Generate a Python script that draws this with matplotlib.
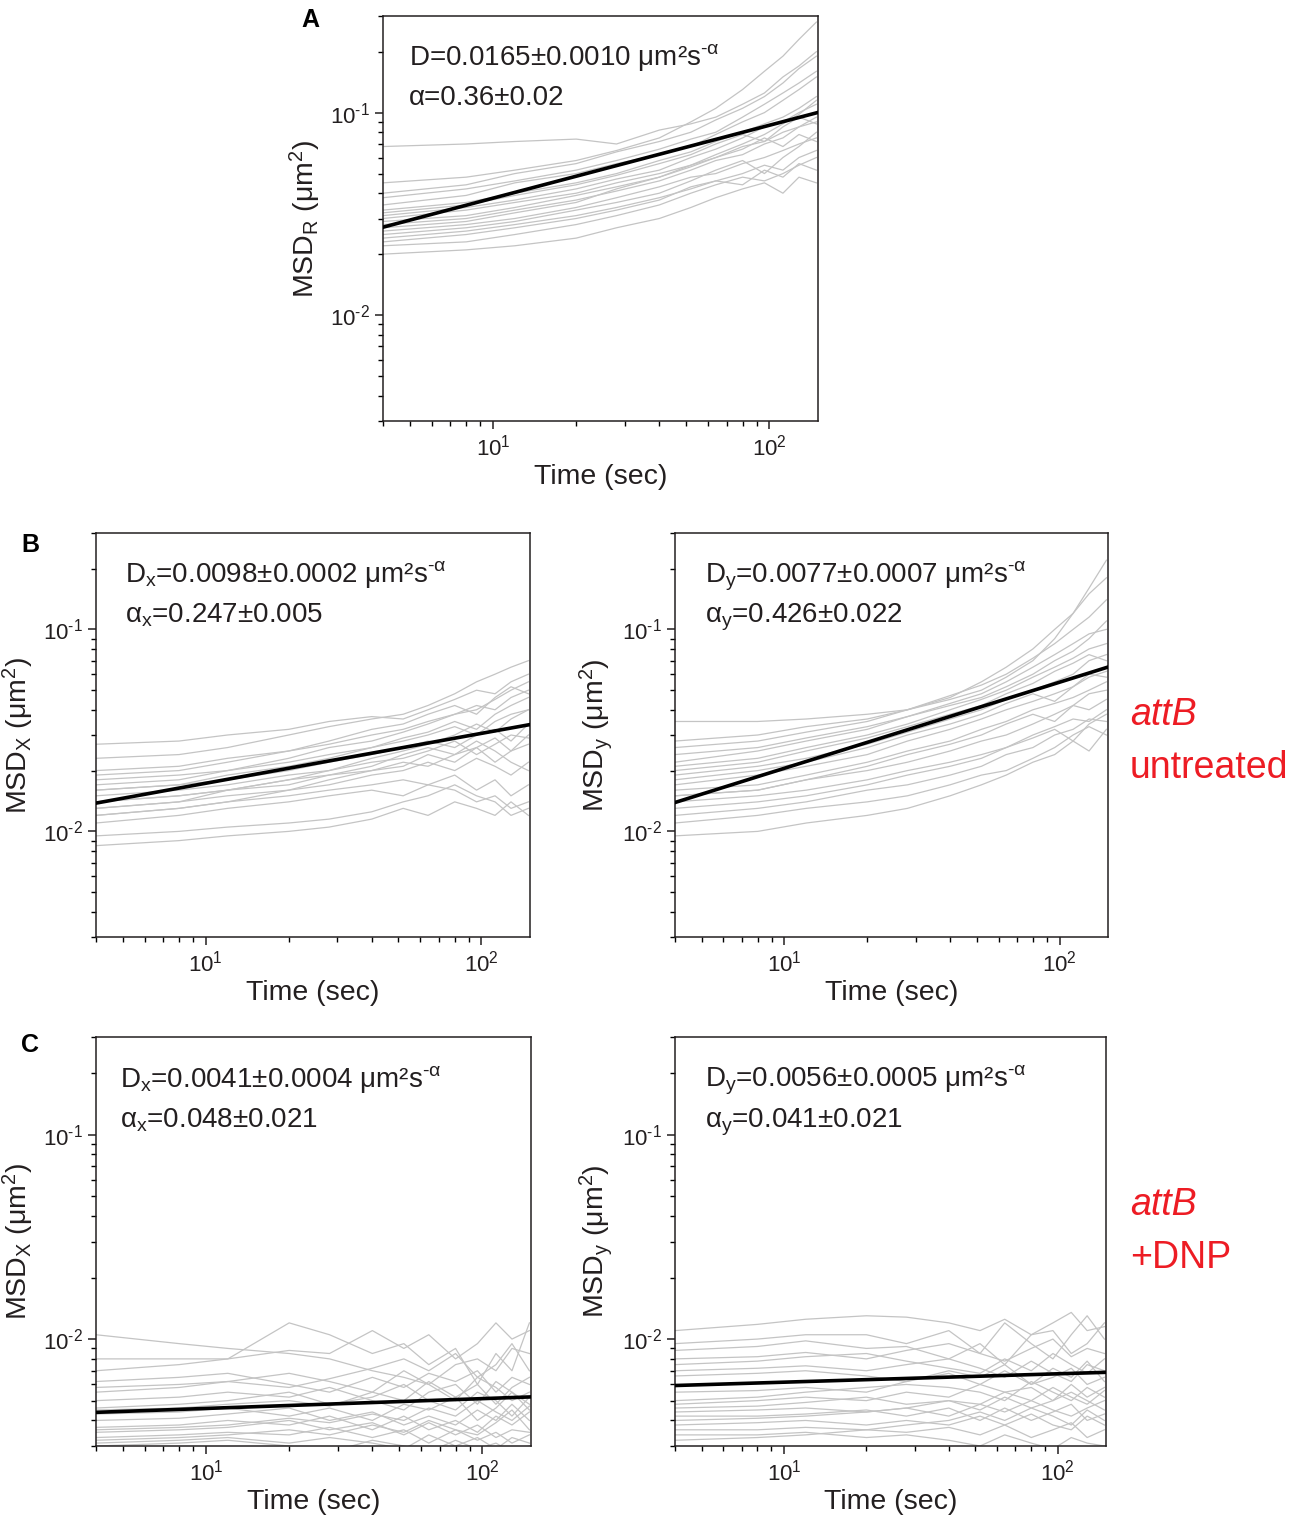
import numpy as np
import matplotlib.pyplot as plt
from matplotlib.ticker import LogLocator, NullFormatter, FuncFormatter

plt.rcParams['font.family'] = ['Liberation Sans', 'DejaVu Sans']
plt.rcParams['mathtext.fontset'] = 'custom'
plt.rcParams['mathtext.rm'] = 'Liberation Sans'
plt.rcParams['mathtext.it'] = 'Liberation Sans:italic'
plt.rcParams['mathtext.bf'] = 'Liberation Sans:bold'

t_lag = [4, 8, 12, 20, 28, 40, 52, 64, 80, 96, 112, 128, 148]

# A: MSD_R traces
msd_r = [
    [0.068, 0.070, 0.072, 0.074, 0.070, 0.082, 0.088, 0.095, 0.110, 0.125, 0.150, 0.170, 0.200],
    [0.045, 0.048, 0.052, 0.058, 0.065, 0.075, 0.090, 0.105, 0.130, 0.160, 0.190, 0.230, 0.280],
    [0.038, 0.042, 0.046, 0.052, 0.058, 0.066, 0.074, 0.080, 0.095, 0.110, 0.125, 0.140, 0.160],
    [0.033, 0.036, 0.040, 0.045, 0.050, 0.058, 0.064, 0.072, 0.080, 0.088, 0.095, 0.105, 0.120],
    [0.030, 0.033, 0.036, 0.040, 0.045, 0.050, 0.055, 0.060, 0.068, 0.072, 0.080, 0.085, 0.095],
    [0.028, 0.030, 0.033, 0.037, 0.041, 0.046, 0.052, 0.058, 0.062, 0.070, 0.075, 0.085, 0.090],
    [0.026, 0.028, 0.030, 0.034, 0.038, 0.043, 0.048, 0.050, 0.056, 0.060, 0.065, 0.070, 0.075],
    [0.024, 0.026, 0.028, 0.031, 0.034, 0.038, 0.042, 0.046, 0.050, 0.055, 0.052, 0.060, 0.065],
    [0.022, 0.023, 0.025, 0.028, 0.031, 0.035, 0.040, 0.044, 0.048, 0.046, 0.050, 0.055, 0.060],
    [0.020, 0.021, 0.022, 0.024, 0.027, 0.030, 0.034, 0.038, 0.042, 0.045, 0.040, 0.048, 0.045],
    [0.035, 0.039, 0.045, 0.050, 0.056, 0.062, 0.068, 0.078, 0.090, 0.100, 0.115, 0.130, 0.150],
    [0.031, 0.034, 0.037, 0.042, 0.047, 0.052, 0.060, 0.066, 0.075, 0.085, 0.090, 0.100, 0.110],
    [0.040, 0.044, 0.050, 0.056, 0.064, 0.072, 0.080, 0.092, 0.105, 0.120, 0.140, 0.165, 0.190],
    [0.027, 0.029, 0.032, 0.036, 0.042, 0.048, 0.055, 0.062, 0.070, 0.078, 0.088, 0.098, 0.115],
    [0.025, 0.027, 0.029, 0.033, 0.036, 0.040, 0.046, 0.052, 0.058, 0.050, 0.060, 0.068, 0.080],
    [0.023, 0.025, 0.027, 0.030, 0.033, 0.037, 0.043, 0.046, 0.044, 0.052, 0.048, 0.056, 0.052],
    [0.032, 0.035, 0.039, 0.044, 0.049, 0.056, 0.062, 0.070, 0.078, 0.072, 0.085, 0.095, 0.088],
    [0.029, 0.031, 0.034, 0.039, 0.043, 0.048, 0.054, 0.060, 0.066, 0.075, 0.068, 0.078, 0.072],
]

# B: untreated, MSD_x and MSD_y traces
msd_x_untr = [
    [0.027, 0.028, 0.030, 0.032, 0.035, 0.037, 0.036, 0.040, 0.045, 0.050, 0.048, 0.055, 0.060],
    [0.023, 0.024, 0.026, 0.030, 0.033, 0.036, 0.038, 0.042, 0.048, 0.055, 0.060, 0.065, 0.070],
    [0.020, 0.021, 0.023, 0.025, 0.027, 0.030, 0.032, 0.035, 0.038, 0.042, 0.040, 0.046, 0.050],
    [0.018, 0.019, 0.020, 0.022, 0.024, 0.026, 0.028, 0.030, 0.033, 0.030, 0.035, 0.038, 0.040],
    [0.016, 0.017, 0.018, 0.020, 0.022, 0.024, 0.026, 0.028, 0.026, 0.030, 0.032, 0.028, 0.034],
    [0.015, 0.016, 0.017, 0.019, 0.020, 0.022, 0.023, 0.025, 0.028, 0.024, 0.027, 0.030, 0.029],
    [0.014, 0.015, 0.016, 0.017, 0.019, 0.020, 0.022, 0.021, 0.024, 0.026, 0.022, 0.025, 0.027],
    [0.013, 0.014, 0.015, 0.016, 0.017, 0.019, 0.020, 0.022, 0.020, 0.023, 0.021, 0.019, 0.022],
    [0.012, 0.013, 0.014, 0.015, 0.016, 0.017, 0.018, 0.017, 0.019, 0.016, 0.018, 0.015, 0.017],
    [0.011, 0.012, 0.013, 0.014, 0.015, 0.016, 0.015, 0.017, 0.016, 0.014, 0.015, 0.013, 0.014],
    [0.0095, 0.010, 0.0105, 0.011, 0.0115, 0.0125, 0.014, 0.015, 0.017, 0.015, 0.014, 0.012, 0.013],
    [0.0085, 0.009, 0.0095, 0.010, 0.0105, 0.0115, 0.013, 0.012, 0.014, 0.013, 0.012, 0.014, 0.012],
    [0.017, 0.018, 0.020, 0.023, 0.026, 0.028, 0.031, 0.034, 0.038, 0.040, 0.045, 0.050, 0.055],
    [0.019, 0.020, 0.022, 0.025, 0.028, 0.032, 0.034, 0.038, 0.042, 0.038, 0.046, 0.052, 0.048],
    [0.014, 0.015, 0.016, 0.018, 0.020, 0.023, 0.025, 0.027, 0.030, 0.034, 0.031, 0.036, 0.040],
    [0.012, 0.013, 0.014, 0.016, 0.018, 0.020, 0.021, 0.024, 0.022, 0.026, 0.029, 0.025, 0.030],
    [0.016, 0.017, 0.019, 0.021, 0.023, 0.026, 0.029, 0.031, 0.035, 0.032, 0.038, 0.042, 0.046],
    [0.013, 0.014, 0.016, 0.018, 0.019, 0.021, 0.024, 0.026, 0.024, 0.028, 0.025, 0.022, 0.020],
]
msd_y_untr = [
    [0.035, 0.035, 0.036, 0.038, 0.040, 0.045, 0.050, 0.058, 0.070, 0.090, 0.120, 0.160, 0.220],
    [0.028, 0.030, 0.033, 0.036, 0.040, 0.046, 0.055, 0.065, 0.080, 0.100, 0.120, 0.150, 0.180],
    [0.024, 0.026, 0.029, 0.033, 0.037, 0.043, 0.048, 0.055, 0.065, 0.075, 0.085, 0.095, 0.100],
    [0.021, 0.023, 0.026, 0.030, 0.034, 0.040, 0.045, 0.050, 0.058, 0.065, 0.072, 0.080, 0.085],
    [0.019, 0.021, 0.023, 0.027, 0.031, 0.036, 0.040, 0.045, 0.050, 0.055, 0.060, 0.070, 0.075],
    [0.017, 0.019, 0.021, 0.024, 0.028, 0.032, 0.036, 0.040, 0.044, 0.048, 0.052, 0.058, 0.062],
    [0.016, 0.017, 0.019, 0.022, 0.025, 0.028, 0.032, 0.035, 0.040, 0.043, 0.046, 0.050, 0.055],
    [0.015, 0.016, 0.018, 0.020, 0.022, 0.025, 0.028, 0.030, 0.034, 0.038, 0.042, 0.040, 0.045],
    [0.014, 0.015, 0.016, 0.018, 0.020, 0.022, 0.024, 0.026, 0.030, 0.033, 0.036, 0.035, 0.040],
    [0.012, 0.013, 0.014, 0.016, 0.017, 0.019, 0.021, 0.024, 0.026, 0.030, 0.032, 0.036, 0.035],
    [0.011, 0.012, 0.013, 0.014, 0.015, 0.017, 0.019, 0.020, 0.023, 0.026, 0.030, 0.033, 0.030],
    [0.0095, 0.010, 0.011, 0.012, 0.013, 0.015, 0.017, 0.019, 0.022, 0.024, 0.028, 0.025, 0.032],
    [0.022, 0.025, 0.028, 0.032, 0.037, 0.042, 0.046, 0.052, 0.060, 0.070, 0.078, 0.090, 0.110],
    [0.026, 0.028, 0.031, 0.035, 0.040, 0.047, 0.053, 0.060, 0.072, 0.085, 0.100, 0.115, 0.140],
    [0.018, 0.020, 0.022, 0.026, 0.030, 0.034, 0.038, 0.043, 0.048, 0.044, 0.052, 0.060, 0.058],
    [0.015, 0.016, 0.018, 0.021, 0.024, 0.027, 0.030, 0.034, 0.038, 0.035, 0.042, 0.048, 0.050],
    [0.013, 0.014, 0.015, 0.017, 0.019, 0.021, 0.023, 0.026, 0.029, 0.032, 0.028, 0.034, 0.038],
    [0.020, 0.022, 0.025, 0.029, 0.033, 0.038, 0.042, 0.048, 0.054, 0.062, 0.068, 0.075, 0.070],
]

# C: +DNP, MSD_x and MSD_y traces
msd_x_dnp = [
    [0.0105, 0.0095, 0.0090, 0.0085, 0.0080, 0.0070, 0.0065, 0.0060, 0.0075, 0.0080, 0.0070, 0.0090, 0.0085],
    [0.0080, 0.0080, 0.0080, 0.0088, 0.0085, 0.0110, 0.0090, 0.0105, 0.0080, 0.0095, 0.0120, 0.0100, 0.0110],
    [0.0070, 0.0075, 0.0080, 0.0120, 0.0105, 0.0085, 0.0095, 0.0075, 0.0090, 0.0060, 0.0085, 0.0070, 0.0120],
    [0.0062, 0.0065, 0.0068, 0.0060, 0.0055, 0.0065, 0.0058, 0.0068, 0.0062, 0.0070, 0.0055, 0.0065, 0.0060],
    [0.0055, 0.0058, 0.0062, 0.0068, 0.0062, 0.0055, 0.0070, 0.0060, 0.0050, 0.0065, 0.0058, 0.0050, 0.0055],
    [0.0050, 0.0052, 0.0055, 0.0052, 0.0058, 0.0050, 0.0045, 0.0055, 0.0060, 0.0048, 0.0062, 0.0055, 0.0048],
    [0.0046, 0.0048, 0.0050, 0.0055, 0.0048, 0.0052, 0.0060, 0.0050, 0.0045, 0.0055, 0.0050, 0.0042, 0.0052],
    [0.0043, 0.0044, 0.0046, 0.0042, 0.0046, 0.0040, 0.0048, 0.0045, 0.0052, 0.0040, 0.0046, 0.0055, 0.0045],
    [0.0040, 0.0041, 0.0043, 0.0046, 0.0040, 0.0044, 0.0038, 0.0042, 0.0038, 0.0045, 0.0040, 0.0048, 0.0040],
    [0.0037, 0.0038, 0.0040, 0.0038, 0.0042, 0.0036, 0.0042, 0.0036, 0.0040, 0.0035, 0.0042, 0.0038, 0.0044],
    [0.0035, 0.0036, 0.0037, 0.0040, 0.0036, 0.0039, 0.0034, 0.0039, 0.0034, 0.0038, 0.0033, 0.0036, 0.0035],
    [0.0033, 0.0034, 0.0035, 0.0034, 0.0037, 0.0033, 0.0036, 0.0031, 0.0036, 0.0032, 0.0035, 0.0031, 0.0034],
    [0.0031, 0.0032, 0.0033, 0.0031, 0.0033, 0.0031, 0.0029, 0.0034, 0.0030, 0.0033, 0.0029, 0.0033, 0.0031],
    [0.0030, 0.0031, 0.0032, 0.0030, 0.0028, 0.0032, 0.0030, 0.0028, 0.0032, 0.0029, 0.0031, 0.0028, 0.0030],
    [0.0058, 0.0060, 0.0062, 0.0058, 0.0064, 0.0072, 0.0080, 0.0070, 0.0085, 0.0065, 0.0075, 0.0095, 0.0070],
    [0.0045, 0.0046, 0.0048, 0.0050, 0.0047, 0.0055, 0.0050, 0.0062, 0.0052, 0.0060, 0.0048, 0.0058, 0.0065],
    [0.0036, 0.0037, 0.0038, 0.0041, 0.0039, 0.0043, 0.0040, 0.0046, 0.0042, 0.0050, 0.0044, 0.0040, 0.0047],
    [0.0032, 0.0033, 0.0034, 0.0036, 0.0034, 0.0038, 0.0035, 0.0040, 0.0036, 0.0034, 0.0039, 0.0045, 0.0036],
]
msd_y_dnp = [
    [0.0110, 0.0118, 0.0125, 0.0130, 0.0128, 0.0120, 0.0110, 0.0125, 0.0105, 0.0120, 0.0135, 0.0110, 0.0115],
    [0.0095, 0.0100, 0.0105, 0.0105, 0.0095, 0.0110, 0.0085, 0.0120, 0.0095, 0.0080, 0.0105, 0.0130, 0.0100],
    [0.0088, 0.0092, 0.0098, 0.0090, 0.0092, 0.0080, 0.0095, 0.0075, 0.0105, 0.0110, 0.0085, 0.0095, 0.0120],
    [0.0075, 0.0078, 0.0082, 0.0085, 0.0078, 0.0072, 0.0068, 0.0080, 0.0070, 0.0085, 0.0075, 0.0068, 0.0080],
    [0.0070, 0.0072, 0.0074, 0.0070, 0.0075, 0.0080, 0.0072, 0.0065, 0.0078, 0.0068, 0.0062, 0.0075, 0.0070],
    [0.0066, 0.0068, 0.0070, 0.0066, 0.0062, 0.0068, 0.0060, 0.0070, 0.0060, 0.0065, 0.0072, 0.0060, 0.0065],
    [0.0050, 0.0052, 0.0055, 0.0058, 0.0060, 0.0058, 0.0055, 0.0050, 0.0062, 0.0055, 0.0050, 0.0058, 0.0052],
    [0.0048, 0.0050, 0.0052, 0.0050, 0.0055, 0.0052, 0.0060, 0.0055, 0.0050, 0.0058, 0.0052, 0.0048, 0.0056],
    [0.0046, 0.0047, 0.0049, 0.0052, 0.0048, 0.0050, 0.0045, 0.0052, 0.0046, 0.0050, 0.0055, 0.0050, 0.0045],
    [0.0044, 0.0045, 0.0046, 0.0044, 0.0046, 0.0042, 0.0048, 0.0044, 0.0050, 0.0045, 0.0042, 0.0046, 0.0050],
    [0.0042, 0.0042, 0.0043, 0.0045, 0.0042, 0.0046, 0.0040, 0.0046, 0.0040, 0.0044, 0.0048, 0.0040, 0.0043],
    [0.0038, 0.0039, 0.0040, 0.0038, 0.0040, 0.0038, 0.0042, 0.0038, 0.0043, 0.0038, 0.0036, 0.0042, 0.0038],
    [0.0036, 0.0036, 0.0037, 0.0036, 0.0035, 0.0037, 0.0034, 0.0038, 0.0033, 0.0036, 0.0039, 0.0033, 0.0036],
    [0.0034, 0.0034, 0.0035, 0.0033, 0.0034, 0.0032, 0.0030, 0.0034, 0.0031, 0.0029, 0.0033, 0.0031, 0.0030],
    [0.0080, 0.0082, 0.0086, 0.0080, 0.0088, 0.0095, 0.0085, 0.0078, 0.0090, 0.0100, 0.0082, 0.0090, 0.0085],
    [0.0055, 0.0056, 0.0058, 0.0055, 0.0062, 0.0070, 0.0065, 0.0075, 0.0060, 0.0072, 0.0065, 0.0078, 0.0062],
    [0.0040, 0.0041, 0.0042, 0.0044, 0.0046, 0.0050, 0.0048, 0.0055, 0.0058, 0.0050, 0.0060, 0.0052, 0.0058],
    [0.0032, 0.0033, 0.0034, 0.0036, 0.0038, 0.0040, 0.0044, 0.0040, 0.0046, 0.0042, 0.0038, 0.0045, 0.0040],
]

# fitted D and alpha (MSD = D * t^alpha)
fit_D = [0.0165, 0.0098, 0.0077, 0.0041, 0.0056]
fit_alpha = [0.36, 0.247, 0.426, 0.048, 0.041]

txt_col = '#231f20'
red = '#ed1c24'

fig = plt.figure(figsize=(13.06, 15.18), dpi=100)
W, H = 1306, 1518

def px_axes(x0, y0, x1, y1):
    return fig.add_axes([x0 / W, 1 - y1 / H, (x1 - x0) / W, (y1 - y0) / H])

axA = px_axes(383, 16, 818, 421)
axBx = px_axes(96, 533, 530, 937)
axBy = px_axes(675, 533, 1108, 937)
axCx = px_axes(96, 1037, 531, 1446)
axCy = px_axes(675, 1037, 1106, 1446)

def decade_fmt(v, pos):
    e = int(round(np.log10(v)))
    return '10$^{\\text{%d}}$' % e

sup = r'$^{\text{-α}}$'
panels = [
    (axA, msd_r, r'MSD$_\mathrm{R}$ (μm$^\mathrm{2}$)',
     'D=0.0165±0.0010 μm²s' + sup, 'α=0.36±0.02', 0.06),
    (axBx, msd_x_untr, r'MSD$_\mathrm{X}$ (μm$^\mathrm{2}$)',
     r'D$_\mathrm{x}$=0.0098±0.0002 μm²s' + sup, r'α$_\mathrm{x}$=0.247±0.005', 0.067),
    (axBy, msd_y_untr, r'MSD$_\mathrm{y}$ (μm$^\mathrm{2}$)',
     r'D$_\mathrm{y}$=0.0077±0.0007 μm²s' + sup, r'α$_\mathrm{y}$=0.426±0.022', 0.069),
    (axCx, msd_x_dnp, r'MSD$_\mathrm{X}$ (μm$^\mathrm{2}$)',
     r'D$_\mathrm{x}$=0.0041±0.0004 μm²s' + sup, r'α$_\mathrm{x}$=0.048±0.021', 0.056),
    (axCy, msd_y_dnp, r'MSD$_\mathrm{y}$ (μm$^\mathrm{2}$)',
     r'D$_\mathrm{y}$=0.0056±0.0005 μm²s' + sup, r'α$_\mathrm{y}$=0.041±0.021', 0.069),
]

t_fit = np.array([4.0, 150.0])

for i, (ax, traces, ylab, line1, line2, tx) in enumerate(panels):
    for tr in traces:
        ax.plot(t_lag, tr, color='#c4c4c4', lw=0.9, zorder=1)
    ax.plot(t_fit, fit_D[i] * t_fit ** fit_alpha[i], color='black', lw=2.6, zorder=3)
    ax.set_xscale('log')
    ax.set_yscale('log')
    ax.set_xlim(4, 150)
    ax.set_ylim(0.003, 0.3)
    ax.xaxis.set_minor_locator(LogLocator(base=10, subs=np.arange(2, 10)))
    ax.yaxis.set_minor_locator(LogLocator(base=10, subs=np.arange(2, 10)))
    ax.xaxis.set_major_formatter(FuncFormatter(decade_fmt))
    ax.yaxis.set_major_formatter(FuncFormatter(decade_fmt))
    ax.xaxis.set_minor_formatter(NullFormatter())
    ax.yaxis.set_minor_formatter(NullFormatter())
    ax.tick_params(which='major', direction='out', length=6, width=1.1, labelsize=16,
                   colors=txt_col, top=False, right=False)
    ax.tick_params(which='minor', direction='out', length=3.5, width=1.0,
                   top=False, right=False)
    for s in ax.spines.values():
        s.set_linewidth(1.1)
        s.set_color(txt_col)
    ax.set_xlabel('Time (sec)', fontsize=20.5, color=txt_col, labelpad=3)
    ax.set_ylabel(ylab, fontsize=20.5, color=txt_col, labelpad=5)
    ax.text(tx, 0.935, line1, transform=ax.transAxes, fontsize=20, color=txt_col, va='top')
    ax.text(tx, 0.83, line2, transform=ax.transAxes, fontsize=20, color=txt_col, va='top')

# panel letters
fig.text(310 / W, 1 - 20 / H, 'A', fontsize=18, fontweight='bold', ha='center', va='center')
fig.text(30 / W, 1 - 545 / H, 'B', fontsize=18, fontweight='bold', ha='center', va='center')
fig.text(30 / W, 1 - 1045 / H, 'C', fontsize=18, fontweight='bold', ha='center', va='center')

# condition labels
fig.text(1130 / W, 1 - 715 / H, 'attB', fontsize=27, style='italic', color=red, va='center')
fig.text(1130 / W, 1 - 768 / H, 'untreated', fontsize=27, color=red, va='center')
fig.text(1130 / W, 1 - 1205 / H, 'attB', fontsize=27, style='italic', color=red, va='center')
fig.text(1130 / W, 1 - 1258 / H, '+DNP', fontsize=27, color=red, va='center')

fig.savefig('out.png', dpi=100, facecolor='white')
